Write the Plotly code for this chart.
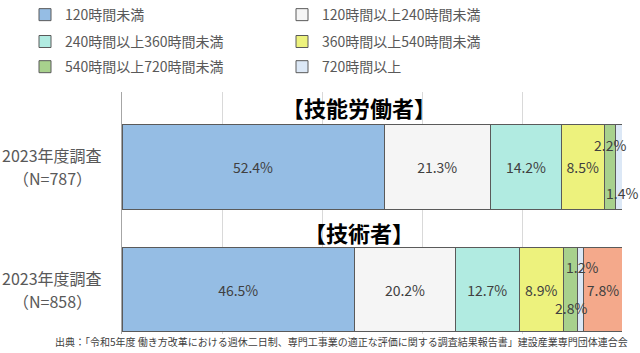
import plotly.graph_objects as go

categories = ["2023年度調査<br>（N=787）", "2023年度調査<br>（N=858）"]
cat_line1 = ["2023年度調査", "2023年度調査"]
cat_line2 = ["（N=787）", "（N=858）"]
group_titles = ["【技能労働者】", "【技術者】"]
series_names = ["120時間未満", "120時間以上240時間未満", "240時間以上360時間未満",
                "360時間以上540時間未満", "540時間以上720時間未満", "720時間以上", "無回答"]
series_values = [
    [52.4, 46.5],
    [21.3, 20.2],
    [14.2, 12.7],
    [8.5, 8.9],
    [2.2, 2.8],
    [1.4, 1.2],
    [0.0, 7.8],
]
source_text = "出典：「令和5年度 働き方改革における週休二日制、専門工事業の適正な評価に関する調査結果報告書」建設産業専門団体連合会"

colors = ["#95BDE4", "#F5F5F5", "#B1EBE1", "#EDF27D", "#A8D18D", "#DCE8F6", "#F4A98B"]
# small segments labelled outside the bar: (series index, category index, xshift, yshift)
small_labels = [(4, 0, 0, 22), (5, 0, 3, -26), (5, 1, 1, 23), (4, 1, 0, -18)]
small_set = {(s, c) for s, c, _, _ in small_labels}

FONT = "Noto Sans CJK JP"
fig = go.Figure()
legend_of = ["legend", "legend", "legend2", "legend2", "legend3", "legend3", "legend"]
for i, (name, vals) in enumerate(zip(series_names, series_values)):
    texts = ["" if ((i, j) in small_set or v == 0) else f"{v}%" for j, v in enumerate(vals)]
    fig.add_trace(go.Bar(
        y=categories, x=vals, name=name, orientation="h",
        marker=dict(color=colors[i], line=dict(color="#5A5A5A", width=1)),
        text=texts, textposition="inside", insidetextanchor="middle",
        textfont=dict(size=14, color="#404040", family=FONT),
        width=0.69, showlegend=(i < 6), legend=legend_of[i],
    ))

annotations = []
for s, c, xs, ys in small_labels:
    start = sum(series_values[k][c] for k in range(s))
    v = series_values[s][c]
    annotations.append(dict(x=start + v / 2, y=c, xref="x", yref="y", text=f"{v}%",
                            showarrow=False, xshift=xs, yshift=ys,
                            font=dict(size=14, color="#404040", family=FONT)))
for j, t in enumerate(group_titles):
    annotations.append(dict(x=0.474, y=j - 0.49 + (0.02 if j else 0), xref="paper", yref="y", text=t,
                            xanchor="center", yanchor="middle",
                            showarrow=False, font=dict(size=22, color="#000000", family=FONT,
                                                       weight="bold")))
for j in range(len(categories)):
    annotations.append(dict(x=-0.14, y=j, xref="paper", yref="y", text=cat_line1[j],
                            xanchor="center", yanchor="middle", showarrow=False, yshift=12,
                            borderpad=0,
                            font=dict(size=16, color="#595959", family=FONT)))
    annotations.append(dict(x=-0.14, y=j, xref="paper", yref="y", text=cat_line2[j],
                            xanchor="center", yanchor="middle", showarrow=False, yshift=-11,
                            borderpad=0,
                            font=dict(size=16, color="#595959", family=FONT)))
annotations.append(dict(x=1.016, y=-0.029, xref="paper", yref="paper", text=source_text,
                        xanchor="right", yanchor="middle", showarrow=False,
                        font=dict(size=10, color="#404040", family=FONT)))

leg_common = dict(orientation="h", xanchor="left", yanchor="middle", entrywidth=212,
                  traceorder="normal",
                  font=dict(size=14, color="#595959", family=FONT),
                  bgcolor="rgba(0,0,0,0)", itemclick=False)
fig.update_layout(
    barmode="stack",
    width=640, height=353,
    margin=dict(l=122, r=18, t=92, b=19, autoexpand=False),
    paper_bgcolor="white", plot_bgcolor="white",
    font=dict(family=FONT),
    uniformtext=dict(minsize=14, mode="show"),
    xaxis=dict(range=[0, 100], dtick=20, showgrid=True, gridcolor="#D9D9D9", gridwidth=1,
               showticklabels=False, zeroline=False, showline=False, fixedrange=True),
    yaxis=dict(type="category", range=[1.363, -0.612], showticklabels=False, showgrid=False,
               showline=True, linecolor="#A6A6A6", ticks="", fixedrange=True),
    legend=dict(x=-0.194, y=1.318, **leg_common),
    legend2=dict(x=-0.194, y=1.207, **leg_common),
    legend3=dict(x=-0.194, y=1.103, **leg_common),
    annotations=annotations,
)
fig.write_html("out.html")
